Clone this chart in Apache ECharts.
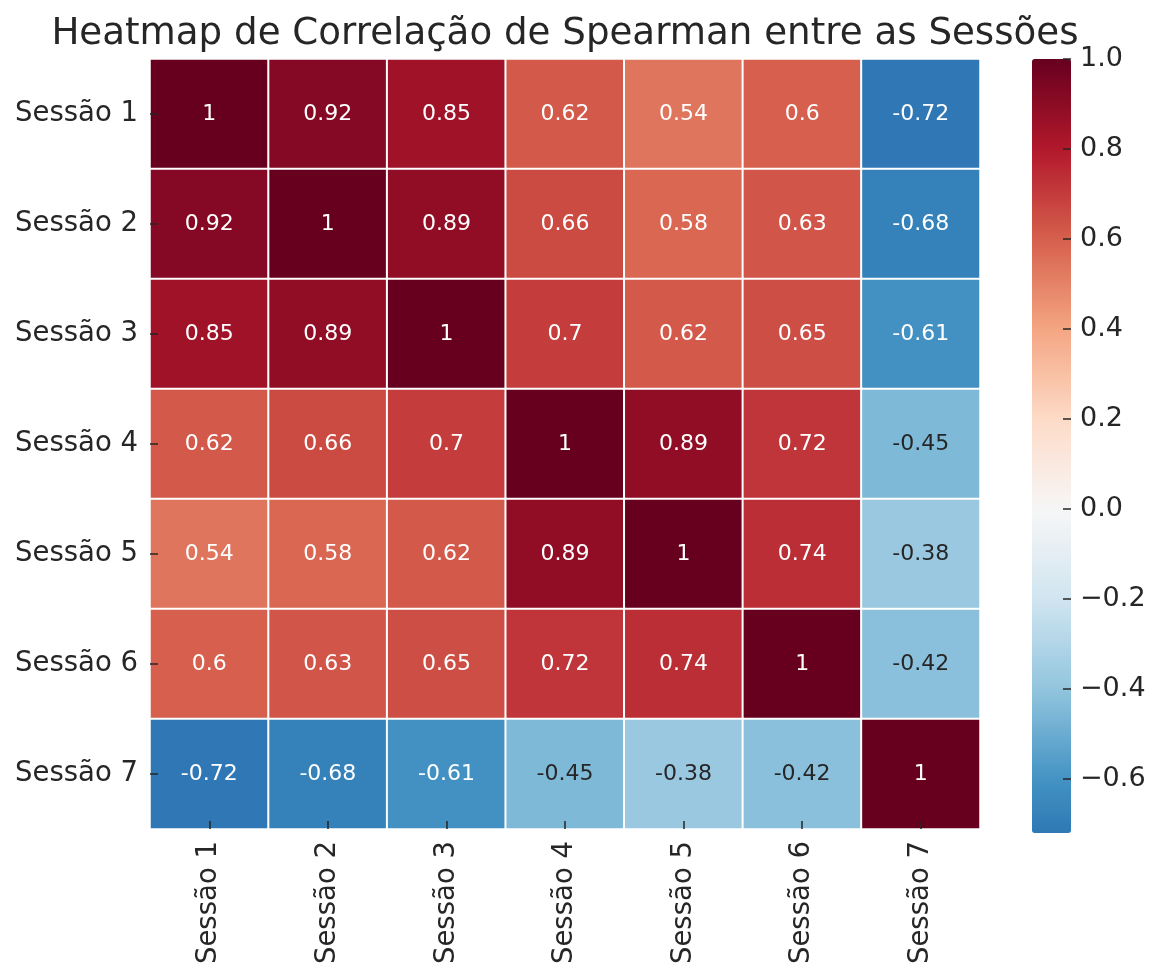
<!DOCTYPE html>
<html>
<head>
<meta charset="utf-8">
<script src="https://cdn.jsdelivr.net/npm/echarts@6/dist/echarts.min.js"></script>
<style>
  html, body { margin: 0; padding: 0; background: #fff; }
  #main { width: 1150px; height: 967px; }
</style>
</head>
<body>
<div id="main"></div>
<script>
var sessoes = ['Sessão 1', 'Sessão 2', 'Sessão 3', 'Sessão 4', 'Sessão 5', 'Sessão 6', 'Sessão 7'];
var row1 = [1, 0.92, 0.85, 0.62, 0.54, 0.6, -0.72];
var row2 = [0.92, 1, 0.89, 0.66, 0.58, 0.63, -0.68];
var row3 = [0.85, 0.89, 1, 0.7, 0.62, 0.65, -0.61];
var row4 = [0.62, 0.66, 0.7, 1, 0.89, 0.72, -0.45];
var row5 = [0.54, 0.58, 0.62, 0.89, 1, 0.74, -0.38];
var row6 = [0.6, 0.63, 0.65, 0.72, 0.74, 1, -0.42];
var row7 = [-0.72, -0.68, -0.61, -0.45, -0.38, -0.42, 1];
var barTicks = [-0.6, -0.4, -0.2, 0, 0.2, 0.4, 0.6, 0.8, 1.0];
var vMin = -0.72, vMax = 1;

var corr = [row1, row2, row3, row4, row5, row6, row7];

// RdBu_r centrado em 0 (de -1 a 1)
var rdbu = ['#053061', '#2166ac', '#4393c3', '#92c5de', '#d1e5f0', '#f7f7f7',
  '#fddbc7', '#f4a582', '#d6604d', '#b2182b', '#67001f'];

function hexRgb(h) {
  return [parseInt(h.substr(1, 2), 16), parseInt(h.substr(3, 2), 16), parseInt(h.substr(5, 2), 16)];
}
function colorAt(v) {
  var p = (v + 1) / 2 * 10;
  var i = Math.max(0, Math.min(9, Math.floor(p)));
  var t = p - i;
  var a = hexRgb(rdbu[i]), b = hexRgb(rdbu[i + 1]);
  return [0, 1, 2].map(function (k) { return Math.round(a[k] + (b[k] - a[k]) * t); });
}
function toCss(c) { return 'rgb(' + c.join(',') + ')'; }
function luminance(c) {
  var l = c.map(function (x) {
    x = x / 255;
    return x <= 0.03928 ? x / 12.92 : Math.pow((x + 0.055) / 1.055, 2.4);
  });
  return 0.2126 * l[0] + 0.7152 * l[1] + 0.0722 * l[2];
}

var stops = [];
for (var s = 0; s <= 80; s++) {
  stops.push(toCss(colorAt(vMin + (vMax - vMin) * s / 80)));
}

var cells = [];
corr.forEach(function (row, i) {
  row.forEach(function (v, j) {
    cells.push({
      value: [j, i, v],
      label: { color: luminance(colorAt(v)) > 0.408 ? '#262626' : '#ffffff' }
    });
  });
});

var myChart = echarts.init(document.getElementById('main'));

var option = {
  backgroundColor: '#ffffff',
  animation: false,
  textStyle: { fontFamily: 'DejaVu Sans' },
  title: {
    text: 'Heatmap de Correlação de Spearman entre as Sessões',
    left: 560,
    textAlign: 'center',
    top: 11,
    textStyle: { fontFamily: 'DejaVu Sans', fontSize: 37.2, fontWeight: 'normal', color: '#262626' }
  },
  grid: [
    { left: 150, top: 59, width: 830, height: 774 },
    { left: 1032, top: 59, width: 39, height: 774 }
  ],
  xAxis: [{
    type: 'category',
    data: sessoes,
    position: 'bottom',
    z: 10,
    axisLine: { show: false },
    axisTick: { show: true, inside: true, alignWithLabel: true, length: 8, lineStyle: { color: '#262626', width: 1.5 } },
    axisLabel: { rotate: 90, fontSize: 27.5, color: '#262626', margin: 12, fontFamily: 'DejaVu Sans' },
    splitLine: { show: false }
  }, {
    type: 'category', gridIndex: 1, show: false, data: ['']
  }],
  yAxis: [{
    type: 'category',
    data: sessoes,
    inverse: true,
    z: 10,
    axisLine: { show: false },
    axisTick: { show: true, inside: true, alignWithLabel: true, length: 8, lineStyle: { color: '#262626', width: 1.5 } },
    axisLabel: { fontSize: 27.5, color: '#262626', margin: 12, fontFamily: 'DejaVu Sans' },
    splitLine: { show: false }
  }, {
    type: 'value',
    gridIndex: 1,
    position: 'right',
    min: vMin,
    max: vMax,
    z: 10,
    axisLine: { show: false, onZero: false },
    splitLine: { show: false },
    axisTick: { show: true, inside: true, length: 8, customValues: barTicks, lineStyle: { color: '#262626', width: 1.5 } },
    axisLabel: {
      customValues: barTicks,
      fontSize: 27,
      color: '#262626',
      margin: 9,
      fontFamily: 'DejaVu Sans',
      formatter: function (v) { return v.toFixed(1).replace('-', '\u2212'); }
    }
  }],
  visualMap: {
    type: 'continuous',
    min: vMin,
    max: vMax,
    dimension: 2,
    seriesIndex: 0,
    calculable: false,
    left: 1032,
    top: 59,
    padding: 0,
    itemWidth: 39,
    itemHeight: 774,
    inRange: { color: stops }
  },
  series: [{
    type: 'heatmap',
    xAxisIndex: 0,
    yAxisIndex: 0,
    data: cells,
    itemStyle: { borderColor: '#ffffff', borderWidth: 2 },
    label: {
      show: true,
      fontSize: 22,
      fontFamily: 'DejaVu Sans',
      formatter: function (p) { return String(p.value[2]); }
    },
    emphasis: { disabled: true }
  }]
};

myChart.setOption(option);

window.addEventListener('resize', function () {
  myChart.resize();
});
</script>
</body>
</html>
